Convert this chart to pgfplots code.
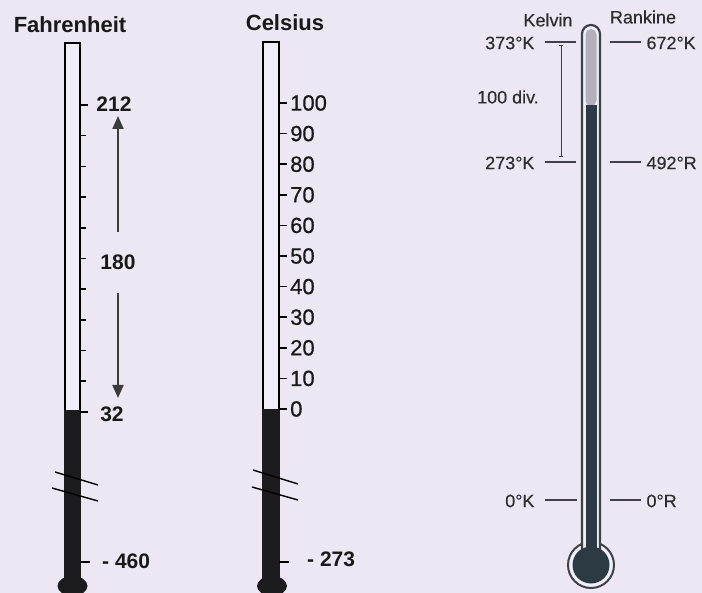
\documentclass[border=0pt]{standalone}
\usepackage{pgfplots}
\pgfplotsset{compat=1.18}
\usepackage{fontspec}
\setmainfont{Liberation Sans}
\newfontfamily\medfont[FakeBold=0.6]{Liberation Sans}
\newfontfamily\lightmed[FakeBold=0.35]{Liberation Sans}
\usetikzlibrary{arrows.meta}
\definecolor{bg}{RGB}{236,231,242}
\definecolor{tubebg}{RGB}{240,238,248}
\definecolor{dk}{RGB}{28,28,30}
\definecolor{txt}{RGB}{25,25,25}
\definecolor{rtxt}{RGB}{45,45,48}
\definecolor{kline}{RGB}{60,66,72}
\definecolor{kgray}{RGB}{180,176,186}
\definecolor{kdark}{RGB}{44,58,68}
\definecolor{arr}{RGB}{60,60,62}
\newcommand\fs[1]{\fontsize{#1}{#1}\selectfont}
\begin{document}
\begin{tikzpicture}
\begin{axis}[scale only axis, width=702pt, height=593pt,
  xmin=0, xmax=702, ymin=0, ymax=593, y dir=reverse,
  hide axis, clip=true, unbounded coords=jump]
% background
\addplot[fill=bg, draw=none] coordinates {(0,0)(702,0)(702,593)(0,593)} --cycle;

% ================= Fahrenheit =================
\addplot[draw=black, line width=2pt, fill=tubebg] coordinates {(65,585)(65,43)(80,43)(80,585)};
\addplot[fill=dk, draw=none] coordinates {(64,410)(81,410)(81,585)(64,585)} --cycle;
\fill[dk] (72.5,586) ellipse[x radius=15pt, y radius=10pt];
% ticks
\addplot[black, line width=1.6pt] coordinates {
(80,105)(88,105)(nan,nan)
(80,135.7)(86,135.7)(nan,nan)
(80,166.4)(86,166.4)(nan,nan)
(80,197.1)(86,197.1)(nan,nan)
(80,227.8)(86,227.8)(nan,nan)
(80,258.5)(86,258.5)(nan,nan)
(80,289.2)(86,289.2)(nan,nan)
(80,319.9)(86,319.9)(nan,nan)
(80,350.6)(86,350.6)(nan,nan)
(80,381.3)(86,381.3)(nan,nan)
(80,412)(88,412)(nan,nan)
(80,562)(90,562)};
% break lines
\addplot[black, line width=1.4pt] coordinates {(55,472)(98,485)(nan,nan)(52,488)(98,501)};
% arrows
\addplot[arr, line width=2pt, -{Triangle[width=11pt,length=13pt]}] coordinates {(118,232)(118,116)};
\addplot[arr, line width=2pt, -{Triangle[width=11pt,length=13pt]}] coordinates {(118,293)(118,398)};
\node[font=\fs{22}\bfseries, text=txt] at (70,25) {Fahrenheit};
\node[font=\fs{21}\bfseries, text=txt] at (114,104) {212};
\node[font=\fs{21}\bfseries, text=txt] at (118,262) {180};
\node[font=\fs{21}\bfseries, text=txt] at (112,414) {32};
\node[font=\fs{21}\bfseries, text=txt, anchor=west, inner sep=0pt] at (102,561) {- 460};

% ================= Celsius =================
\addplot[draw=black, line width=2pt, fill=tubebg] coordinates {(263,585)(263,42)(279,42)(279,585)};
\addplot[fill=dk, draw=none] coordinates {(262,409)(280,409)(280,585)(262,585)} --cycle;
\fill[dk] (272,586) ellipse[x radius=15pt, y radius=10pt];
\addplot[black, line width=1.6pt] coordinates {
(279,103)(287,103)(nan,nan)
(279,133.6)(287,133.6)(nan,nan)
(279,164.2)(287,164.2)(nan,nan)
(279,194.8)(287,194.8)(nan,nan)
(279,225.4)(287,225.4)(nan,nan)
(279,256)(287,256)(nan,nan)
(279,286.6)(287,286.6)(nan,nan)
(279,317.2)(287,317.2)(nan,nan)
(279,347.8)(287,347.8)(nan,nan)
(279,378.4)(287,378.4)(nan,nan)
(279,409)(287,409)(nan,nan)
(279,562)(289,562)};
\addplot[black, line width=1.4pt] coordinates {(253,470)(298,484)(nan,nan)(252,487)(298,500)};
\node[font=\fs{22}\bfseries, text=txt] at (285,23) {Celsius};
\begin{scope}[every node/.style={font=\fs{22}\medfont, text=txt, anchor=west, inner sep=0pt}]
\node at (290,103) {100};
\node at (290,133.6) {90};
\node at (290,164.2) {80};
\node at (290,194.8) {70};
\node at (290,225.4) {60};
\node at (290,256) {50};
\node at (290,286.6) {40};
\node at (290,317.2) {30};
\node at (290,347.8) {20};
\node at (290,378.4) {10};
\node at (290,409) {0};
\end{scope}
\node[font=\fs{21}\bfseries, text=txt, anchor=west, inner sep=0pt] at (307,559) {- 273};

% ================= Kelvin / Rankine =================
\fill[tubebg, draw=kline, line width=2pt] (591,565) circle[radius=23pt];
\addplot[draw=kline, line width=2.2pt, fill=tubebg, rounded corners=9pt] coordinates {(582,555)(582,25)(600,25)(600,555)};
\fill[kdark] (591,565) circle[radius=18.5pt];
\addplot[fill=kgray, draw=none, rounded corners=5.5pt] coordinates {(585.5,106)(585.5,29)(596.5,29)(596.5,106)} --cycle;
\addplot[fill=kdark, draw=none] coordinates {(585.5,105)(596.5,105)(596.5,555)(585.5,555)} --cycle;
% scale lines
\addplot[kline, line width=1.6pt] coordinates {
(545,42)(576,42)(nan,nan)(610,42)(641,42)(nan,nan)
(545,162)(576,162)(nan,nan)(610,162)(641,162)(nan,nan)
(545,500)(577,500)(nan,nan)(610,500)(641,500)};
% dimension line
\addplot[kline, line width=1pt] coordinates {(561,46)(561,157)(nan,nan)(559,46)(563,46)(nan,nan)(559,157)(563,157)};
\begin{scope}[every node/.style={font=\fs{18}\lightmed, text=rtxt}]
\node at (548,20) {Kelvin};
\node at (643,17) {Rankine};
\node[anchor=east] at (538,43) {373°K};
\node[anchor=west] at (643,43) {672°K};
\node at (508,97) {100 div.};
\node[anchor=east] at (538,163) {273°K};
\node[anchor=west] at (643,163) {492°R};
\node[anchor=east] at (538,501) {0°K};
\node[anchor=west] at (643,501) {0°R};
\end{scope}
\end{axis}
\end{tikzpicture}
\end{document}
